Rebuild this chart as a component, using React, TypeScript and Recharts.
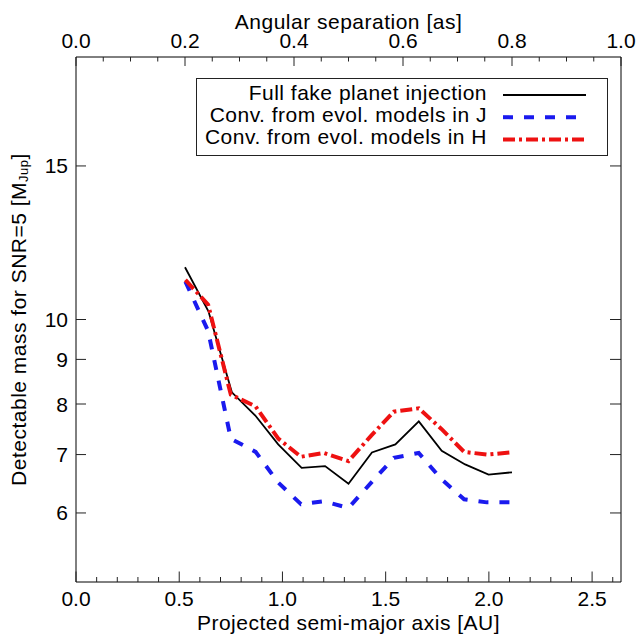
import { LineChart, Line, XAxis, YAxis } from 'recharts';

// angular separations [as] and the matching projected separations [AU]
const SEP = [0.2, 0.243, 0.286, 0.329, 0.371, 0.414, 0.457, 0.5, 0.543, 0.586, 0.629, 0.671, 0.714, 0.757, 0.8];
const AU = [0.53, 0.64, 0.75, 0.87, 0.98, 1.09, 1.2, 1.32, 1.43, 1.54, 1.66, 1.77, 1.88, 1.99, 2.11];
const FULL = [11.48, 10.22, 8.25, 7.76, 7.19, 6.76, 6.79, 6.48, 7.04, 7.19, 7.64, 7.07, 6.82, 6.64, 6.68];
const CONV_J = [11.05, 9.7, 7.3, 7.05, 6.5, 6.14, 6.19, 6.08, 6.5, 6.94, 7.03, 6.56, 6.22, 6.17, 6.17];
const CONV_H = [11.1, 10.4, 8.2, 7.95, 7.3, 6.96, 7.03, 6.88, 7.36, 7.84, 7.91, 7.49, 7.05, 7.0, 7.04];

const AU_TICKS = [
  0, 0.1, 0.2, 0.3, 0.4, 0.5, 0.6, 0.7, 0.8, 0.9, 1.0, 1.1, 1.2, 1.3, 1.4, 1.5, 1.6, 1.7, 1.8,
  1.9, 2.0, 2.1, 2.2, 2.3, 2.4, 2.5, 2.6,
];
const SEP_TICKS = [
  0, 0.05, 0.1, 0.15, 0.2, 0.25, 0.3, 0.35, 0.4, 0.45, 0.5, 0.55, 0.6, 0.65, 0.7, 0.75, 0.8, 0.85,
  0.9, 0.95, 1.0,
];
const MASS_TICKS = [6, 7, 8, 9, 10, 15];

const data = AU.map((au, i) => ({ au, sep: SEP[i], full: FULL[i], j: CONV_J[i], h: CONV_H[i] }));

const FONT = '"Liberation Sans", Arial, Helvetica, sans-serif';
const TICK_COLOR = '#222';

const isMultiple = (v: number, step: number) => {
  const r = v / step;
  return Math.abs(r - Math.round(r)) < 1e-6;
};

const BottomTick = (props: any) => {
  const { x, y, payload } = props;
  const major = isMultiple(payload.value, 0.5);
  return (
    <g>
      <line x1={x} x2={x} y1={y} y2={y - (major ? 10.5 : 5)} stroke={TICK_COLOR} />
      {major && (
        <text x={x} y={y + 24} textAnchor="middle" fontSize={21} fontFamily={FONT} fill="#000">
          {payload.value.toFixed(1)}
        </text>
      )}
    </g>
  );
};

const TopTick = (props: any) => {
  const { x, y, payload } = props;
  const major = isMultiple(payload.value, 0.2);
  return (
    <g>
      <line x1={x} x2={x} y1={y} y2={y + (major ? 9 : 4.5)} stroke={TICK_COLOR} />
      {major && (
        <text x={x} y={y - 9} textAnchor="middle" fontSize={21} fontFamily={FONT} fill="#000">
          {payload.value.toFixed(1)}
        </text>
      )}
    </g>
  );
};

const LeftTick = (props: any) => {
  const { x, y, payload } = props;
  return (
    <g>
      <line x1={x} x2={x + 10} y1={y} y2={y} stroke={TICK_COLOR} />
      <text x={x - 8} y={y + 7.5} textAnchor="end" fontSize={21} fontFamily={FONT} fill="#000">
        {payload.value}
      </text>
    </g>
  );
};

const RightTick = (props: any) => {
  const { x, y } = props;
  return <line x1={x} x2={x - 11} y1={y} y2={y} stroke={TICK_COLOR} />;
};

const xTitle = ({ viewBox }: any) => (
  <text
    x={viewBox.x + viewBox.width / 2}
    y={viewBox.y + 48}
    textAnchor="middle"
    fontSize={21}
    letterSpacing={0.5}
    fontFamily={FONT}
    fill="#000"
  >
    Projected semi-major axis [AU]
  </text>
);

const topTitle = ({ viewBox }: any) => (
  <text
    x={viewBox.x + viewBox.width / 2}
    y={29}
    textAnchor="middle"
    fontSize={21}
    letterSpacing={0.5}
    fontFamily={FONT}
    fill="#000"
  >
    Angular separation [as]
  </text>
);

const yTitle = ({ viewBox }: any) => {
  const cy = viewBox.y + viewBox.height / 2;
  return (
    <text
      transform={`translate(26, ${cy}) rotate(-90)`}
      textAnchor="middle"
      fontSize={21}
      letterSpacing={0.5}
      fontFamily={FONT}
      fill="#000"
    >
      Detectable mass for SNR=5 [M
      <tspan fontSize={13} dy={2}>
        Jup
      </tspan>
      <tspan dy={-2}>]</tspan>
    </text>
  );
};

const BLUE = '#1a1aee';
const RED = '#ee1111';

const LEGEND = [
  { label: 'Full fake planet injection', color: '#000', width: 1.8, dash: undefined },
  { label: 'Conv. from evol. models in J', color: BLUE, width: 4, dash: '10 11' },
  { label: 'Conv. from evol. models in H', color: RED, width: 4, dash: '12 4 3 4' },
];

function LegendBox() {
  return (
    <svg
      width={640}
      height={636}
      style={{ position: 'absolute', left: 0, top: 0, pointerEvents: 'none' }}
    >
      <rect x={196.5} y={78.5} width={411} height={77} fill="#fff" stroke="#222" />
      {LEGEND.map((d, i) => {
        const ly = 95 + i * 22.2;
        return (
          <g key={d.label}>
            <text
              x={487}
              y={ly + 5}
              textAnchor="end"
              fontSize={21}
              letterSpacing={0.5}
              fontFamily={FONT}
              fill="#000"
            >
              {d.label}
            </text>
            <line
              x1={503}
              x2={586}
              y1={ly}
              y2={ly}
              stroke={d.color}
              strokeWidth={d.width}
              strokeDasharray={d.dash}
            />
          </g>
        );
      })}
    </svg>
  );
}

export default function App() {
  return (
    <div style={{ position: 'absolute', left: 0, top: 0, width: 640, height: 636, background: '#fff' }}>
      <LineChart width={640} height={636} data={data} margin={{ top: 0, right: 0, bottom: 0, left: 0 }}>
        <XAxis
          xAxisId="au"
          dataKey="au"
          type="number"
          domain={[0, 2.64]}
          allowDataOverflow
          ticks={AU_TICKS}
          interval={0}
          height={54}
          tickSize={0}
          tickMargin={0}
          tickLine={false}
          axisLine={{ stroke: '#000' }}
          tick={BottomTick}
          label={xTitle}
        />
        <XAxis
          xAxisId="sep"
          dataKey="sep"
          orientation="top"
          type="number"
          domain={[0, 1]}
          allowDataOverflow
          ticks={SEP_TICKS}
          interval={0}
          height={57}
          tickSize={0}
          tickMargin={0}
          tickLine={false}
          axisLine={{ stroke: '#000' }}
          tick={TopTick}
          label={topTitle}
        />
        <YAxis
          yAxisId="m"
          scale="log"
          type="number"
          domain={[5, 20]}
          allowDataOverflow
          ticks={MASS_TICKS}
          interval={0}
          width={76}
          tickSize={0}
          tickMargin={0}
          tickLine={false}
          axisLine={{ stroke: '#000' }}
          tick={LeftTick}
          label={yTitle}
        />
        <YAxis
          yAxisId="r"
          orientation="right"
          scale="log"
          type="number"
          domain={[5, 20]}
          allowDataOverflow
          ticks={MASS_TICKS}
          interval={0}
          width={19}
          tickSize={0}
          tickMargin={0}
          tickLine={false}
          axisLine={{ stroke: '#000' }}
          tick={RightTick}
        />
        <Line
          xAxisId="sep"
          yAxisId="m"
          dataKey="full"
          type="linear"
          stroke="#000"
          strokeWidth={1.8}
          dot={false}
          isAnimationActive={false}
        />
        <Line
          xAxisId="au"
          yAxisId="m"
          dataKey="j"
          type="linear"
          stroke={BLUE}
          strokeWidth={4}
          strokeDasharray="10 11"
          dot={false}
          isAnimationActive={false}
        />
        <Line
          xAxisId="au"
          yAxisId="r"
          dataKey="h"
          type="linear"
          stroke={RED}
          strokeWidth={4}
          strokeDasharray="12 4 3 4"
          dot={false}
          isAnimationActive={false}
        />
      </LineChart>
      <LegendBox />
    </div>
  );
}
